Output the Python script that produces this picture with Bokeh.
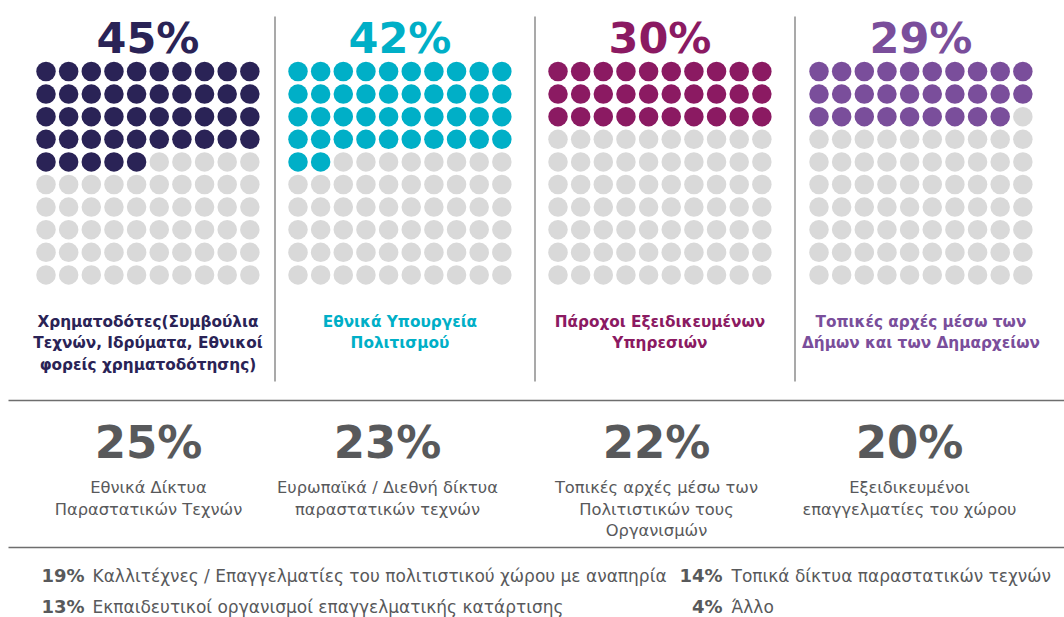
from bokeh.plotting import figure
from bokeh.models import Range1d
from bokeh.core.properties import value
from bokeh.embed import file_html
from bokeh.resources import INLINE

# ---------------- data ----------------
top_pcts = [45, 42, 30, 29]
top_labels = [
    "Χρηματοδότες(Συμβούλια\nΤεχνών, Ιδρύματα, Εθνικοί\nφορείς χρηματοδότησης)",
    "Εθνικά Υπουργεία\nΠολιτισμού",
    "Πάροχοι Εξειδικευμένων\nΥπηρεσιών",
    "Τοπικές αρχές μέσω των\nΔήμων και των Δημαρχείων",
]
top_colors = ["#2A2356", "#00AFC7", "#8B1A62", "#7A4E9B"]

mid_pcts = [25, 23, 22, 20]
mid_labels = [
    "Εθνικά Δίκτυα\nΠαραστατικών Τεχνών",
    "Ευρωπαϊκά / Διεθνή δίκτυα\nπαραστατικών τεχνών",
    "Τοπικές αρχές μέσω των\nΠολιτιστικών τους\nΟργανισμών",
    "Εξειδικευμένοι\nεπαγγελματίες του χώρου",
]

low_pcts = [19, 14, 13, 4]
low_labels = [
    "Καλλιτέχνες / Επαγγελματίες του πολιτιστικού χώρου με αναπηρία",
    "Τοπικά δίκτυα παραστατικών τεχνών",
    "Εκπαιδευτικοί οργανισμοί επαγγελματικής κατάρτισης",
    "Άλλο",
]

# ---------------- layout / style ----------------
EMPTY = "#D9D9D9"
GREY_TXT = "#58595B"
SEP = "#8C8C8C"
FONT = value("DejaVu Sans")

grid_x0 = [45.5, 297.5, 557.5, 818.5]
grid_y0 = 71.0
step_x = 22.65
step_y = 22.6
dot_size = 19.5

p = figure(width=1064, height=617, output_backend="svg", toolbar_location=None,
           x_range=Range1d(0, 1064), y_range=Range1d(617, 0),
           min_border=0, outline_line_color=None)
p.axis.visible = False
p.grid.visible = False
p.background_fill_color = "white"
p.border_fill_color = "white"

# waffles
for k, (pct, col) in enumerate(zip(top_pcts, top_colors)):
    xs, ys, cs = [], [], []
    for i in range(100):
        r, c = divmod(i, 10)
        xs.append(grid_x0[k] + c * step_x)
        ys.append(grid_y0 + r * step_y)
        cs.append(col if i < pct else EMPTY)
    p.scatter(xs, ys, size=dot_size, color=cs, line_color=None)

    cx = grid_x0[k] + 4.5 * step_x
    p.text([cx], [37], text=[f"{pct}%"], text_align="center", text_baseline="middle",
           text_font=FONT, text_font_style="bold", text_font_size="43px", text_color=col)
    for j, line in enumerate(top_labels[k].split("\n")):
        p.text([cx], [321 + j * 21.5], text=[line], text_align="center", text_baseline="middle",
               text_font=FONT, text_font_style="bold", text_font_size="15.3px", text_color=col)

# vertical separators
for sx in [274.5, 534.5, 794.5]:
    p.segment([sx], [16], [sx], [381], line_color=SEP, line_width=1.5)

# horizontal separators
for hy in [400, 547]:
    p.segment([8], [hy], [1064], [hy], line_color="#6E6E6E", line_width=1.5)

# middle row
mid_cx = [148, 387, 656, 909]
for k, pct in enumerate(mid_pcts):
    p.text([mid_cx[k]], [442], text=[f"{pct}%"], text_align="center", text_baseline="middle",
           text_font=FONT, text_font_style="bold", text_font_size="45px", text_color=GREY_TXT)
    for j, line in enumerate(mid_labels[k].split("\n")):
        p.text([mid_cx[k]], [487 + j * 21.5], text=[line], text_align="center", text_baseline="middle",
               text_font=FONT, text_font_size="16.3px", text_color=GREY_TXT)

# bottom list
pct_right = [84, 722, 84, 722]
txt_left = [92, 731, 92, 731]
row_y = [575, 575, 606, 606]
for k, pct in enumerate(low_pcts):
    p.text([pct_right[k]], [row_y[k]], text=[f"{pct}%"], text_align="right", text_baseline="middle",
           text_font=FONT, text_font_style="bold", text_font_size="18px", text_color=GREY_TXT)
    p.text([txt_left[k]], [row_y[k]], text=[low_labels[k]], text_align="left", text_baseline="middle",
           text_font=FONT, text_font_size="17px", text_color=GREY_TXT)

open("out.html", "w").write(file_html(p, INLINE))
